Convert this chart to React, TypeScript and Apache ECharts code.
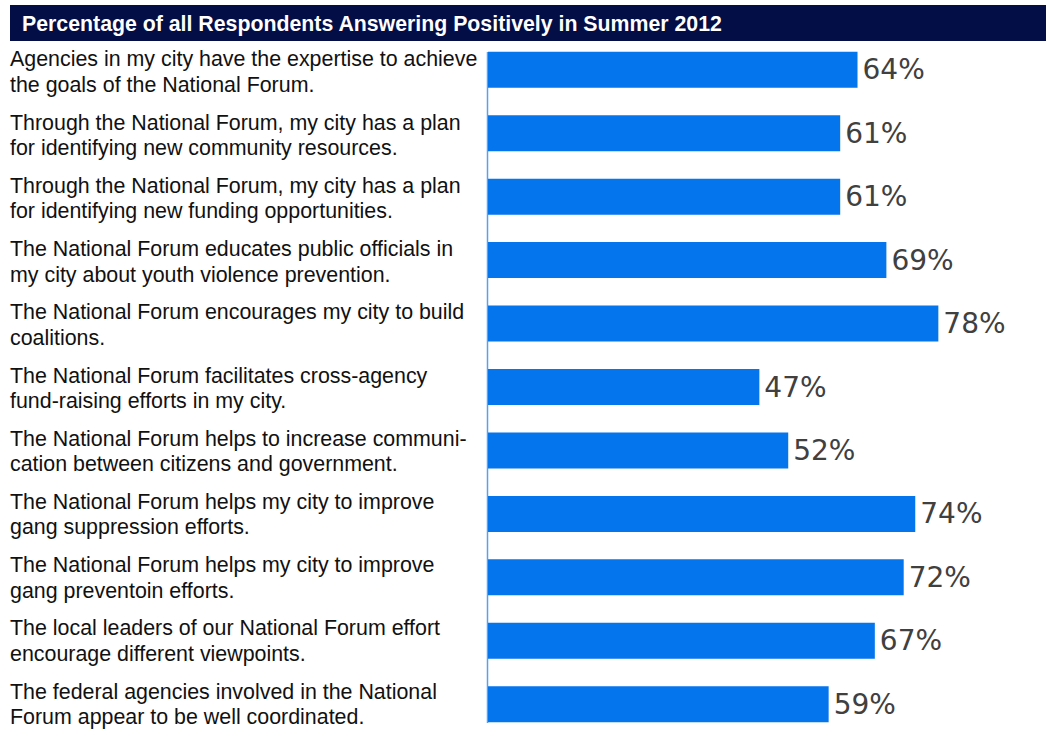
import React, { useEffect, useRef } from "react";
import * as echarts from "echarts";

const title = "Percentage of all Respondents Answering Positively in Summer 2012";

const categories: string[] = [
  "Agencies in my city have the expertise to achieve\nthe goals of the National Forum.",
  "Through the National Forum, my city has a plan\nfor identifying new community resources.",
  "Through the National Forum, my city has a plan\nfor identifying new funding opportunities.",
  "The National Forum educates public officials in\nmy city about youth violence prevention.",
  "The National Forum encourages my city to build\ncoalitions.",
  "The National Forum facilitates cross-agency\nfund-raising efforts in my city.",
  "The National Forum helps to increase communi-\ncation between citizens and government.",
  "The National Forum helps my city to improve\ngang suppression efforts.",
  "The National Forum helps my city to improve\ngang preventoin efforts.",
  "The local leaders of our National Forum effort\nencourage different viewpoints.",
  "The federal agencies involved in the National\nForum appear to be well coordinated.",
];

const values: number[] = [64, 61, 61, 69, 78, 47, 52, 74, 72, 67, 59];

export default function App() {
  const ref = useRef<HTMLDivElement>(null);
  useEffect(() => {
    if (!ref.current) return;
    const chart = echarts.init(ref.current, null, { renderer: "svg" });
    chart.setOption({
      animation: false,
      backgroundColor: "#ffffff",
      grid: [
        { left: 488, top: 38, width: 548.5, height: 702, containLabel: false },
        { left: 488, top: 40.5, width: 548.5, height: 702, containLabel: false },
      ],
      xAxis: [
        { type: "value", gridIndex: 0, min: 0, max: 95, show: false },
        { type: "value", gridIndex: 1, min: 0, max: 95, show: false },
      ],
      yAxis: [
        {
          type: "category",
          gridIndex: 0,
          inverse: true,
          data: categories,
          axisLine: { show: false },
          axisTick: { show: false },
          axisLabel: { show: false },
        },
        {
          type: "category",
          gridIndex: 1,
          inverse: true,
          data: categories,
          axisLine: { show: false },
          axisTick: { show: false },
          axisLabel: {
            align: "left",
            margin: 478,
            color: "#111111",
            fontFamily: "Liberation Sans, Arial, sans-serif",
            fontSize: 21.4,
            lineHeight: 25.5,
          },
        },
      ],
      series: [
        {
          type: "bar",
          xAxisIndex: 0,
          yAxisIndex: 0,
          data: values,
          barWidth: 36,
          itemStyle: { color: "#0575ee" },
          label: {
            show: true,
            position: "right",
            distance: 5,
            formatter: "{c}%",
            color: "#404040",
            fontFamily: "DejaVu Sans, Verdana, sans-serif",
            fontSize: 28,
          },
        },
      ],
      graphic: [
        {
          type: "rect",
          shape: { x: 10, y: 5, width: 1036, height: 36 },
          style: { fill: "#030d46" },
        },
        {
          type: "text",
          x: 22,
          y: 24,
          style: {
            text: title,
            fill: "#ffffff",
            font: "bold 21.3px 'Liberation Sans', Arial, sans-serif",
            textVerticalAlign: "middle",
          },
        },
        {
          type: "line",
          shape: { x1: 487.5, y1: 52, x2: 487.5, y2: 723 },
          style: { stroke: "#5aa0f0", lineWidth: 1.5 },
        },
      ],
    });
    return () => chart.dispose();
  }, []);
  return (
    <div
      ref={ref}
      style={{ position: "absolute", left: 0, top: 0, width: 1050, height: 736 }}
    />
  );
}
